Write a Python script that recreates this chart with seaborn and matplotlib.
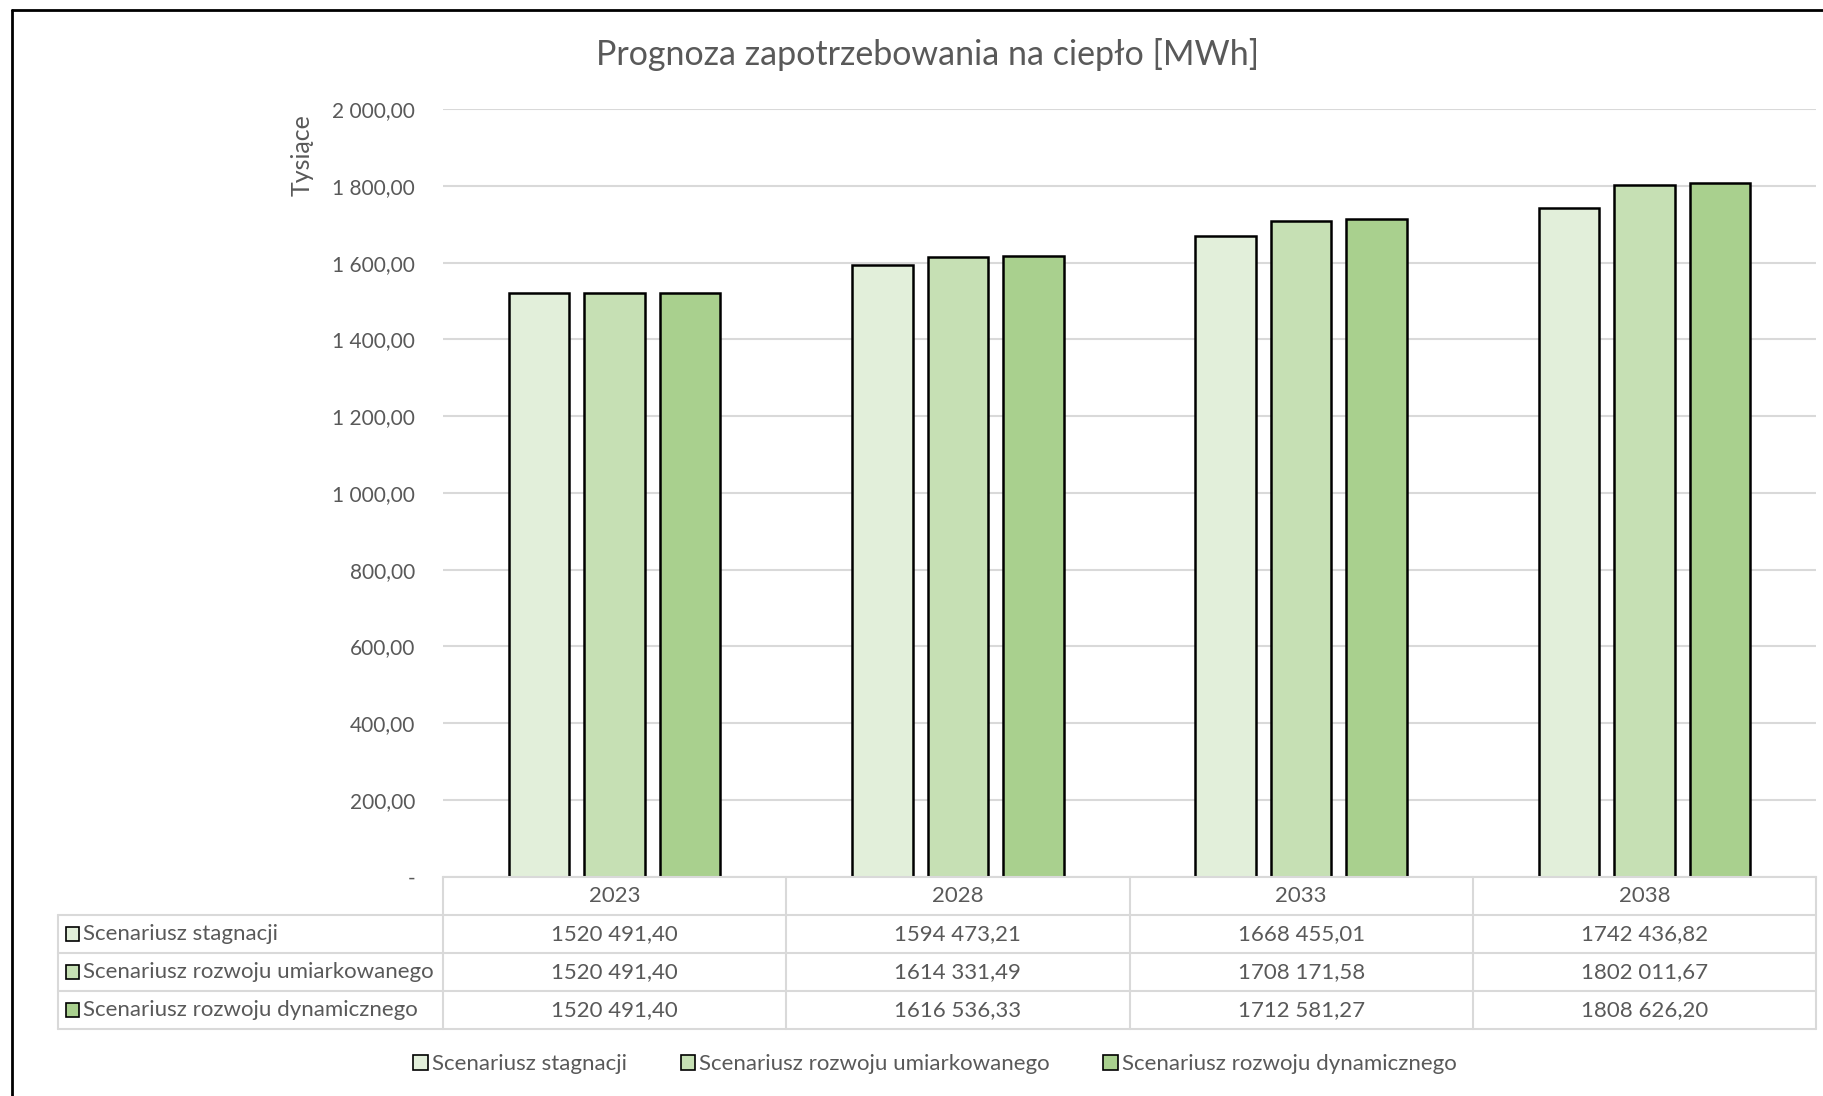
import matplotlib.pyplot as plt
import matplotlib.patches as mpatches
from matplotlib.lines import Line2D
import seaborn as sns
import pandas as pd

years = ["2023", "2028", "2033", "2038"]
scenarios = ["Scenariusz stagnacji",
             "Scenariusz rozwoju umiarkowanego",
             "Scenariusz rozwoju dynamicznego"]
stagnacja = [1520491.40, 1594473.21, 1668455.01, 1742436.82]
umiarkowany = [1520491.40, 1614331.49, 1708171.58, 1802011.67]
dynamiczny = [1520491.40, 1616536.33, 1712581.27, 1808626.20]
colors = ["#E2EFDA", "#C6E0B4", "#A9D08E"]

series = [stagnacja, umiarkowany, dynamiczny]
df = pd.DataFrame({
    "rok": years * 3,
    "scenariusz": [s for s in scenarios for _ in years],
    "wartosc": [v / 1000 for vals in series for v in vals],
})

text_col = "#595959"
grid_col = "#D9D9D9"

sns.set_theme(style="white")
plt.rcParams["font.family"] = ["Lato", "DejaVu Sans"]

fig = plt.figure(figsize=(18.23, 10.96), dpi=100)
ax = fig.add_axes([0.243, 0.2, 0.7532, 0.7005])

sns.barplot(data=df, x="rok", y="wartosc", hue="scenariusz",
            palette=colors, saturation=1, width=0.66, gap=0.2,
            edgecolor="black", linewidth=1.8, ax=ax, legend=False)

ax.set_ylim(0, 2000)
ax.set_xlim(-0.5, 3.5)
ticks = list(range(0, 2001, 200))
ax.set_yticks(ticks)


def tick_fmt(v):
    if v == 0:
        return "-"
    return f"{v:,.2f}".replace(",", " ").replace(".", ",")


def table_fmt(v):
    # Excel style from the source: only the last group is separated
    whole = int(v)
    dec = round((v - whole) * 100)
    return f"{whole // 1000} {whole % 1000:03d},{dec:02d}"


ax.set_yticklabels([tick_fmt(t) for t in ticks], color=text_col, fontsize=15)
ax.tick_params(axis="y", length=0, pad=20)
ax.set_xticks([])
ax.set_xlabel("")
ax.set_ylabel("Tysiące", color=text_col, fontsize=18)
ax.yaxis.set_label_coords(-0.094, 0.94)
ax.grid(axis="y", color=grid_col, linewidth=1.5)
ax.set_axisbelow(True)
for side in ["top", "right", "left"]:
    ax.spines[side].set_visible(False)
ax.spines["bottom"].set_color(grid_col)
ax.spines["bottom"].set_linewidth(1.5)

fig.text(0.509, 0.95, "Prognoza zapotrzebowania na ciepło [MWh]",
         ha="center", va="center", fontsize=24.5, color=text_col)

# data table below the axes
tr = ax.transAxes
row_h = 0.0495
left_x = -0.2804
lkw = dict(color=grid_col, linewidth=1.5, transform=tr, clip_on=False)
for r in range(0, 4):
    y = -row_h * (r + 1)
    ax.add_line(Line2D([left_x, 1], [y, y], **lkw))
ax.add_line(Line2D([left_x, left_x], [-row_h, -4 * row_h], **lkw))
for c in range(5):
    x = c / 4
    ax.add_line(Line2D([x, x], [0, -4 * row_h], **lkw))

for c, yr in enumerate(years):
    ax.text((c + 0.5) / 4, -0.5 * row_h, yr, ha="center", va="center",
            transform=tr, fontsize=16, color=text_col)

for r, (name, vals) in enumerate(zip(scenarios, series)):
    yc = -row_h * (r + 1.5)
    ax.add_patch(mpatches.Rectangle((left_x + 0.006, yc - 0.009), 0.009, 0.018,
                                    facecolor=colors[r], edgecolor="black",
                                    linewidth=1.2, transform=tr, clip_on=False))
    ax.text(left_x + 0.0185, yc, name, ha="left", va="center", transform=tr,
            fontsize=16, color=text_col)
    for c, v in enumerate(vals):
        ax.text((c + 0.5) / 4, yc, table_fmt(v), ha="center", va="center",
                transform=tr, fontsize=16, color=text_col)

handles = [mpatches.Patch(facecolor=col, edgecolor="black", linewidth=1.2, label=s)
           for col, s in zip(colors, scenarios)]
fig.legend(handles=handles, loc="center", bbox_to_anchor=(0.513, 0.029), ncol=3,
           frameon=False, fontsize=16, labelcolor=text_col, handlelength=0.65,
           handleheight=0.65, handletextpad=0.2, columnspacing=2.4)

# chart border
fig.add_artist(Line2D([0.0066, 0.0066], [0, 0.991], color="black", linewidth=2,
                      transform=fig.transFigure))
fig.add_artist(Line2D([0.0066, 1], [0.991, 0.991], color="black", linewidth=2,
                      transform=fig.transFigure))

fig.savefig("out.png", dpi=100)
